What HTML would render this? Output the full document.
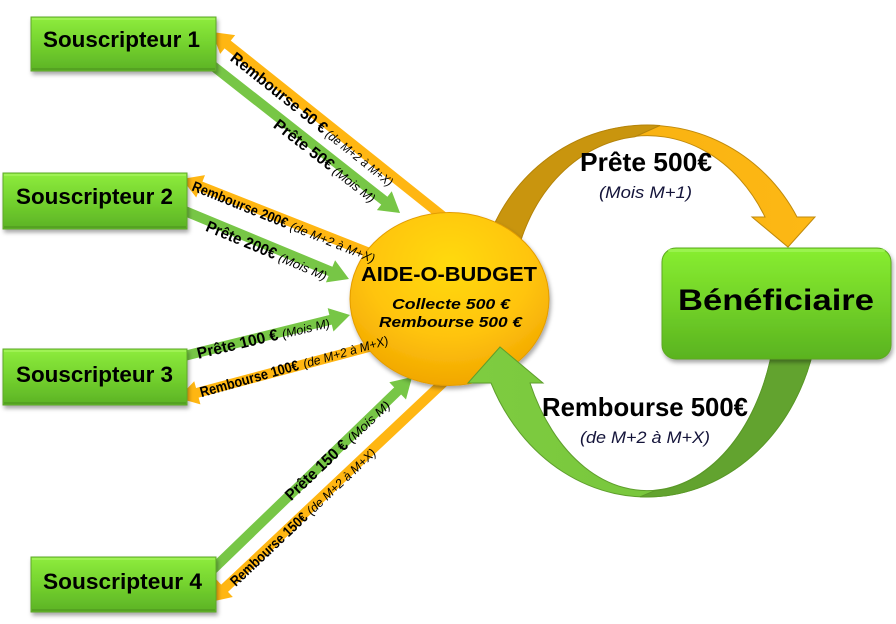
<!DOCTYPE html>
<html><head><meta charset="utf-8"><style>
html,body{margin:0;padding:0;background:#fff;}
svg{display:block;}
text{font-family:"Liberation Sans",Arial,sans-serif;fill:#000;}
</style></head><body>
<svg width="896" height="624" viewBox="0 0 896 624" xmlns="http://www.w3.org/2000/svg">
<defs>
  <linearGradient id="gBox" x1="0" y1="0" x2="0" y2="1">
    <stop offset="0" stop-color="#8EEC3D"/>
    <stop offset="0.5" stop-color="#74D22E"/>
    <stop offset="1" stop-color="#5CB226"/>
  </linearGradient>
  <linearGradient id="gBen" x1="0" y1="0" x2="0" y2="1">
    <stop offset="0" stop-color="#88EE30"/>
    <stop offset="0.55" stop-color="#70CF28"/>
    <stop offset="1" stop-color="#5AB31F"/>
  </linearGradient>
  <radialGradient id="gCirc" cx="0.5" cy="0.3" r="0.75">
    <stop offset="0" stop-color="#FFDA0E"/>
    <stop offset="0.55" stop-color="#FFC40C"/>
    <stop offset="1" stop-color="#EFA200"/>
  </radialGradient>
  <linearGradient id="gOr" x1="0" y1="0" x2="1" y2="0">
    <stop offset="0" stop-color="#F6AE10"/>
    <stop offset="1" stop-color="#FDB814"/>
  </linearGradient>
  <linearGradient id="gGr" x1="0" y1="0" x2="1" y2="0">
    <stop offset="0" stop-color="#7ECC40"/>
    <stop offset="1" stop-color="#74C23A"/>
  </linearGradient>
  <filter id="sh" x="-10%" y="-10%" width="130%" height="140%">
    <feDropShadow dx="1.5" dy="3" stdDeviation="2" flood-color="#000" flood-opacity="0.35"/>
  </filter>
</defs>

<!-- Top curved arrow (orange) -->
<path d="M 480 270 A 170 175 0 0 1 797 217 L 815 217 L 788 247 L 752 217 L 765 217 A 136 164 0 0 0 513.8 270 Z" fill="url(#gOr)" stroke="#C08A0C" stroke-width="1"/>
<path d="M 480 270 A 170 175 0 0 1 660 125.5 L 635 136.7 A 136 164 0 0 0 513.8 270 Z" fill="#C9950E" stroke="#B5840A" stroke-width="1"/>

<!-- Left arrows -->
<g fill="#FFB612">
  <polygon transform="translate(445,218) rotate(218.6)" points="0,-5 278.1,-5 278.1,-12 298.1,0 278.1,12 278.1,5 0,5"/>
  <polygon transform="translate(390,261) rotate(201.52)" points="0,-5 203.6,-5 203.6,-12 223.6,0 203.6,12 203.6,5 0,5"/>
  <polygon transform="translate(395,340) rotate(165.04)" points="0,-5 204.6,-5 204.6,-12 224.6,0 204.6,12 204.6,5 0,5"/>
  <polygon transform="translate(447,379) rotate(136.74)" points="0,-5 305.4,-5 305.4,-12 325.4,0 305.4,12 305.4,5 0,5"/>
</g>
<g fill="#77C646">
  <polygon transform="translate(208,62) rotate(38.18)" points="0,-5 224.3,-5 224.3,-12 244.3,0 224.3,12 224.3,5 0,5"/>
  <polygon transform="translate(180,209) rotate(22.5)" points="0,-5 162.9,-5 162.9,-12 182.9,0 162.9,12 162.9,5 0,5"/>
  <polygon transform="translate(180,357) rotate(-13.88)" points="0,-5 155.1,-5 155.1,-12 175.1,0 155.1,12 155.1,5 0,5"/>
  <polygon transform="translate(208,574) rotate(-43.99)" points="0,-5 263.6,-5 263.6,-12 283.6,0 263.6,12 263.6,5 0,5"/>
</g>

<!-- Central circle -->
<ellipse cx="449.5" cy="299" rx="99.5" ry="86.5" fill="url(#gCirc)" stroke="#E39C00" stroke-width="1" filter="url(#sh)"/>
<text x="361" y="281" font-size="20" font-weight="bold" textLength="176" lengthAdjust="spacingAndGlyphs">AIDE-O-BUDGET</text>
<text x="392" y="309" font-size="15" font-weight="bold" font-style="italic" textLength="118" lengthAdjust="spacingAndGlyphs">Collecte 500 €</text>
<text x="379" y="327" font-size="15" font-weight="bold" font-style="italic" textLength="143" lengthAdjust="spacingAndGlyphs">Rembourse 500 €</text>

<!-- Bottom curved arrow (green) - drawn over circle -->
<path d="M 815.4 340 A 172 197 0 0 1 491 383 L 468 383 L 500 347 L 543 383 L 530 383 A 130 191 0 0 0 774 340 Z" fill="url(#gGr)" stroke="#5E9E2C" stroke-width="1"/>
<path d="M 815.4 340 A 172 197 0 0 1 640 496.8 L 655 490.6 A 130 191 0 0 0 774 340 Z" fill="#62A32F" stroke="#5A9828" stroke-width="1"/>

<!-- Beneficiaire -->
<g filter="url(#sh)">
  <rect x="662" y="248" width="229" height="111" rx="14" ry="14" fill="url(#gBen)" stroke="#5DAA22" stroke-width="1"/>
</g>
<rect x="668" y="249" width="217" height="3" rx="1.5" fill="#A2F55A" opacity="0.7"/>
<text x="678" y="310" font-size="30" font-weight="bold" textLength="196" lengthAdjust="spacingAndGlyphs">Bénéficiaire</text>

<!-- Souscripteur boxes -->
<g filter="url(#sh)">
  <rect x="31" y="17" width="185" height="54" fill="url(#gBox)" stroke="#5EA82A" stroke-width="1"/>
  <rect x="3" y="173" width="184" height="56" fill="url(#gBox)" stroke="#5EA82A" stroke-width="1"/>
  <rect x="3" y="349" width="184" height="56" fill="url(#gBox)" stroke="#5EA82A" stroke-width="1"/>
  <rect x="31" y="557" width="185" height="55" fill="url(#gBox)" stroke="#5EA82A" stroke-width="1"/>
</g>
<g fill="#A6F35E" opacity="0.75">
  <rect x="32" y="18" width="183" height="2"/>
  <rect x="4" y="174" width="182" height="2"/>
  <rect x="4" y="350" width="182" height="2"/>
  <rect x="32" y="558" width="183" height="2"/>
</g>
<g fill="#4E9620" opacity="0.6">
  <rect x="32" y="68" width="183" height="2"/>
  <rect x="4" y="226" width="182" height="2"/>
  <rect x="4" y="402" width="182" height="2"/>
  <rect x="32" y="609" width="183" height="2"/>
</g>
<text x="43" y="47" font-size="22" font-weight="bold" textLength="157" lengthAdjust="spacingAndGlyphs">Souscripteur 1</text>
<text x="16" y="204" font-size="22" font-weight="bold" textLength="157" lengthAdjust="spacingAndGlyphs">Souscripteur 2</text>
<text x="16" y="382" font-size="22" font-weight="bold" textLength="157" lengthAdjust="spacingAndGlyphs">Souscripteur 3</text>
<text x="43" y="589" font-size="22" font-weight="bold" textLength="159" lengthAdjust="spacingAndGlyphs">Souscripteur 4</text>

<!-- Arrow labels -->
<g transform="translate(233,55) rotate(38.6)">
  <text x="0" y="6" font-size="16" font-weight="bold" textLength="119" lengthAdjust="spacingAndGlyphs">Rembourse 50 €</text>
  <text x="122" y="6" font-size="12.5" font-style="italic" textLength="82" lengthAdjust="spacingAndGlyphs">(de M+2 à M+X)</text>
</g>
<g transform="translate(276,122) rotate(37.8)">
  <text x="0" y="6" font-size="16" font-weight="bold" textLength="72" lengthAdjust="spacingAndGlyphs">Prête 50€</text>
  <text x="75" y="6" font-size="12.5" font-style="italic" textLength="50" lengthAdjust="spacingAndGlyphs">(Mois M)</text>
</g>
<g transform="translate(193,185) rotate(21.9)">
  <text x="0" y="5.5" font-size="14.5" font-weight="bold" textLength="102" lengthAdjust="spacingAndGlyphs">Rembourse 200€</text>
  <text x="106" y="5.5" font-size="12.5" font-style="italic" textLength="90" lengthAdjust="spacingAndGlyphs">(de M+2 à M+X)</text>
</g>
<g transform="translate(207,225) rotate(22.6)">
  <text x="0" y="6" font-size="16" font-weight="bold" textLength="75" lengthAdjust="spacingAndGlyphs">Prête 200€</text>
  <text x="79" y="6" font-size="12.5" font-style="italic" textLength="51" lengthAdjust="spacingAndGlyphs">(Mois M)</text>
</g>
<g transform="translate(197,353) rotate(-13.5)">
  <text x="0" y="6" font-size="16" font-weight="bold" textLength="83" lengthAdjust="spacingAndGlyphs">Prête 100 €</text>
  <text x="87" y="6" font-size="12.5" font-style="italic" textLength="49" lengthAdjust="spacingAndGlyphs">(Mois M)</text>
</g>
<g transform="translate(200,392) rotate(-15.8)">
  <text x="0" y="5.5" font-size="14.5" font-weight="bold" textLength="102" lengthAdjust="spacingAndGlyphs">Rembourse 100€</text>
  <text x="107" y="5.5" font-size="12.5" font-style="italic" textLength="88" lengthAdjust="spacingAndGlyphs">(de M+2 à M+X)</text>
</g>
<g transform="translate(287,497) rotate(-43.5)">
  <text x="0" y="6" font-size="16" font-weight="bold" textLength="80" lengthAdjust="spacingAndGlyphs">Prête 150 €</text>
  <text x="84" y="6" font-size="12.5" font-style="italic" textLength="54" lengthAdjust="spacingAndGlyphs">(Mois M)</text>
</g>
<g transform="translate(232,583) rotate(-43.3)">
  <text x="0" y="5.5" font-size="14.5" font-weight="bold" textLength="100" lengthAdjust="spacingAndGlyphs">Rembourse 150€</text>
  <text x="104" y="5.5" font-size="12.5" font-style="italic" textLength="90" lengthAdjust="spacingAndGlyphs">(de M+2 à M+X)</text>
</g>

<!-- Ring labels -->
<text x="580" y="171" font-size="26" font-weight="bold" textLength="132" lengthAdjust="spacingAndGlyphs">Prête 500€</text>
<text x="599" y="198" font-size="17" font-style="italic" textLength="93" lengthAdjust="spacingAndGlyphs" style="fill:#14143A">(Mois M+1)</text>
<text x="542" y="416" font-size="26" font-weight="bold" textLength="206" lengthAdjust="spacingAndGlyphs">Rembourse 500€</text>
<text x="580" y="443" font-size="17" font-style="italic" textLength="130" lengthAdjust="spacingAndGlyphs" style="fill:#14143A">(de M+2 à M+X)</text>
</svg>
</body></html>
